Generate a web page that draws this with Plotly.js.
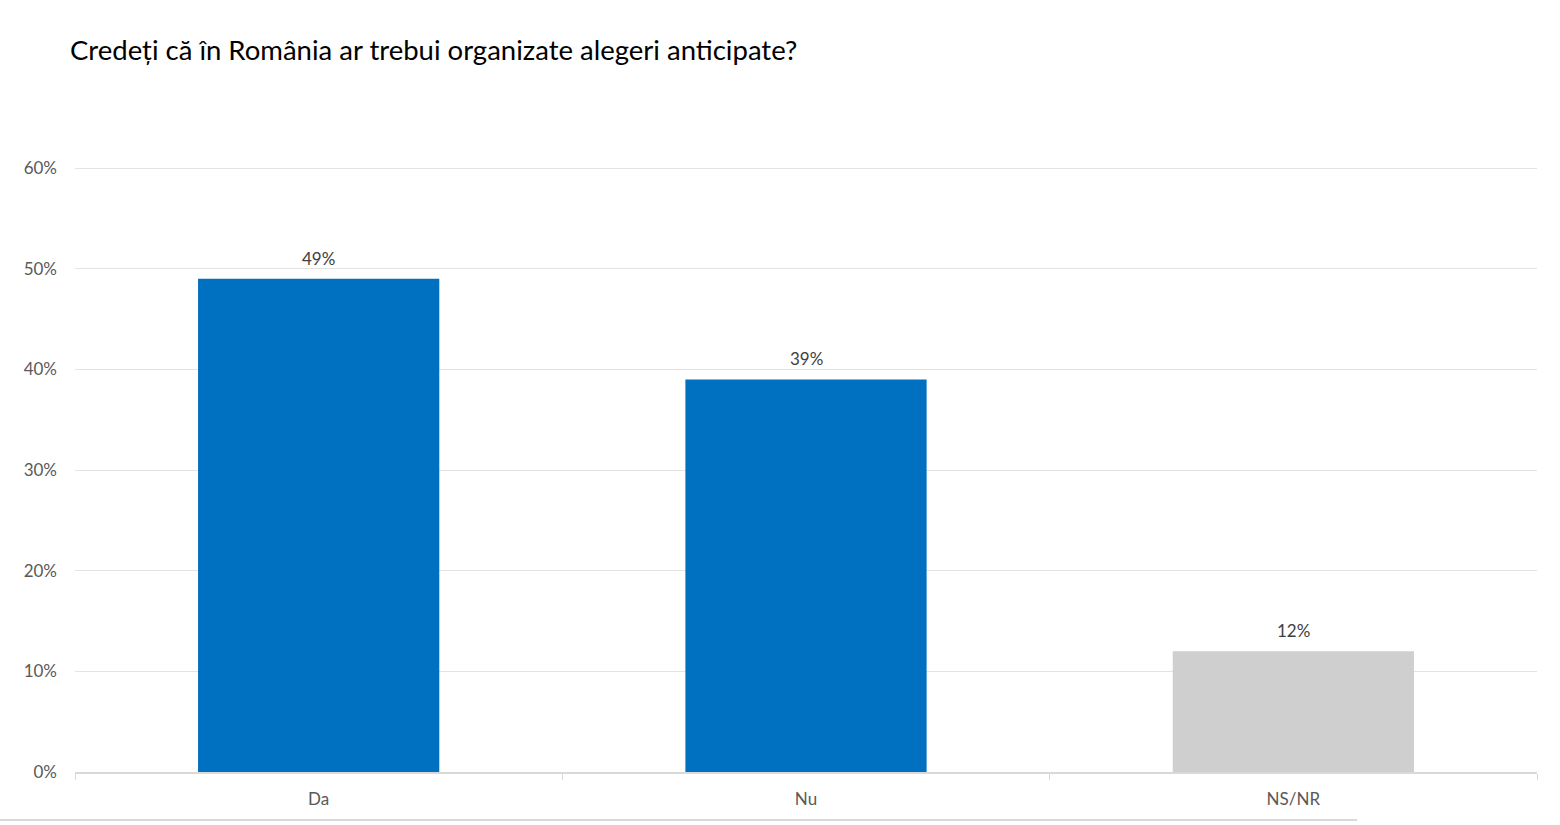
<!DOCTYPE html>
<html>
<head>
<meta charset="utf-8">
<script src="https://cdn.plot.ly/plotly-3.0.1.min.js"></script>
<style>
  html, body { margin: 0; padding: 0; background: #fff; }
  #chart { width: 1560px; height: 825px; }
</style>
</head>
<body>
<div id="chart"></div>
<script>
const categories = ["Da", "Nu", "NS/NR"];
const values = [49, 39, 12];
const barColors = ["#0070c0", "#0070c0", "#d0cfcf"];
const yTicks = [0, 10, 20, 30, 40, 50, 60];
const yTickLabels = ["0%", "10%", "20%", "30%", "40%", "50%", "60%"];

const font = "Lato, 'Open Sans', sans-serif";

const trace = {
    type: "bar",
    x: categories,
    y: values,
    marker: {color: barColors},
    hoverinfo: "none"
};

// value labels above the bars
const labels = categories.map((cat, i) => ({
    x: cat,
    y: values[i],
    text: values[i] + "%",
    showarrow: false,
    yanchor: "bottom",
    yshift: 8,
    font: {family: font, size: 17, color: "#404040"}
}));

const layout = {
    width: 1560,
    height: 825,
    margin: {l: 75, r: 23, t: 165, b: 53},
    paper_bgcolor: "#fff",
    plot_bgcolor: "#fff",
    showlegend: false,
    bargap: 0.505,
    title: {
        text: "Credeți că în România ar trebui organizate alegeri anticipate?",
        x: 0, xref: "paper", xanchor: "left",
        y: 1, yref: "container", yanchor: "top",
        pad: {l: -5, t: 41},
        font: {family: font, size: 27.5, color: "#000"}
    },
    xaxis: {
        type: "category",
        showgrid: false,
        showline: true,
        linecolor: "#d9d9d9",
        linewidth: 1.5,
        ticks: "outside",
        tickson: "boundaries",
        ticklen: 6,
        tickcolor: "#d9d9d9",
        ticklabelstandoff: 11,
        tickfont: {family: font, size: 17, color: "#595959"},
        fixedrange: true
    },
    yaxis: {
        range: [0, 60.3],
        tickvals: yTicks,
        ticktext: yTickLabels,
        showgrid: true,
        gridcolor: "#e3e3e3",
        gridwidth: 1,
        zeroline: false,
        showline: false,
        ticklabelstandoff: 17,
        tickfont: {family: font, size: 17, color: "#595959"},
        fixedrange: true
    },
    annotations: labels,
    shapes: [{
        type: "line",
        xref: "paper", yref: "paper",
        x0: -0.0513, x1: 0.877,
        y0: -0.0791, y1: -0.0791,
        line: {color: "#d9d9d9", width: 2}
    }]
};

Plotly.newPlot("chart", [trace], layout, {displayModeBar: false, staticPlot: true});
</script>
</body>
</html>
